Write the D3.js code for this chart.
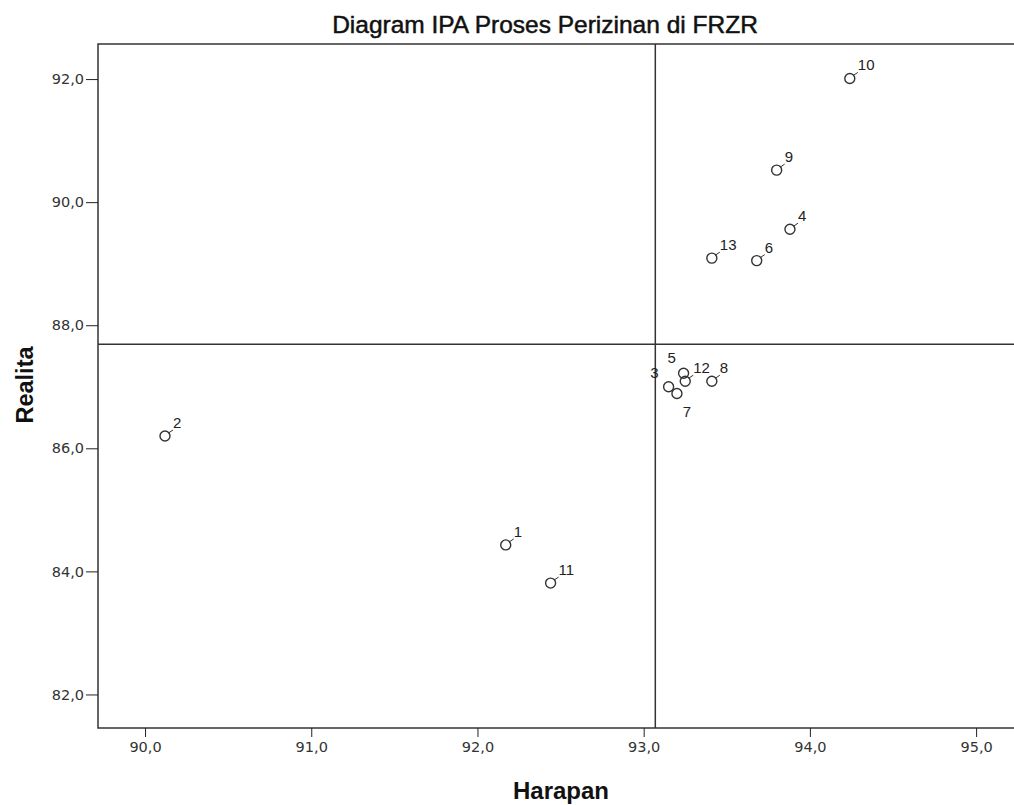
<!DOCTYPE html>
<html lang="en">
  <head>
    <meta charset="UTF-8" />
    <title>Diagram IPA Proses Perizinan di FRZR</title>
    <script src="https://d3js.org/d3.v7.min.js"></script>
    <style>
      body {
        margin: 0;
        background: #fff;
      }
      svg {
        display: block;
        font-family: "Liberation Sans", Arial, sans-serif;
      }
      .tick text {
        font-family: "DejaVu Sans", Verdana, sans-serif;
        font-size: 14.5px;
        fill: #333;
      }
      .tick line,
      .domain {
        stroke: #222;
      }
    </style>
  </head>
  <body>
    <div id="chart"></div>

    <script>
      // attribute numbers and their mean scores
      const ids = [1, 2, 3, 4, 5, 6, 7, 8, 9, 10, 11, 12, 13];
      const harapan = [92.17, 90.12, 93.15, 93.88, 93.24, 93.68, 93.2, 93.41, 93.8, 94.24, 92.44, 93.25, 93.41];
      const realita = [84.43, 86.2, 87.0, 89.56, 87.22, 89.05, 86.89, 87.09, 90.52, 92.01, 83.81, 87.09, 89.09];
      const meanHarapan = 93.07;
      const meanRealita = 87.69;
      const xTicks = [90, 91, 92, 93, 94, 95];
      const yTicks = [82, 84, 86, 88, 90, 92];

      // where a label sits when the points are crowded
      const labelSide = { 3: "w", 5: "nw", 7: "s" };

      const width = 1014;
      const height = 805;
      const margin = { top: 44, right: -2, bottom: 77, left: 98 };

      const svg = d3
        .select("#chart")
        .append("svg")
        .attr("width", width)
        .attr("height", height);

      const x = d3
        .scaleLinear()
        .domain([89.717, 95.24])
        .range([margin.left, width - margin.right]);

      const y = d3
        .scaleLinear()
        .domain([81.455, 92.57])
        .range([height - margin.bottom, margin.top]);

      const fmt = (d) => d3.format(".1f")(d).replace(".", ",");

      // frame
      svg
        .append("rect")
        .attr("x", margin.left)
        .attr("y", margin.top)
        .attr("width", width - margin.right - margin.left)
        .attr("height", height - margin.bottom - margin.top)
        .attr("fill", "none")
        .attr("stroke", "#333")
        .attr("stroke-width", 1.5);

      svg
        .append("g")
        .attr("transform", `translate(0,${height - margin.bottom})`)
        .call(d3.axisBottom(x).tickValues(xTicks).tickFormat(fmt).tickSize(9).tickPadding(5))
        .call((g) => g.select(".domain").remove());

      svg
        .append("g")
        .attr("transform", `translate(${margin.left},0)`)
        .call(d3.axisLeft(y).tickValues(yTicks).tickFormat(fmt).tickSize(12).tickPadding(2))
        .call((g) => g.select(".domain").remove());

      // reference lines at the means
      svg
        .append("line")
        .attr("x1", x(meanHarapan))
        .attr("x2", x(meanHarapan))
        .attr("y1", margin.top)
        .attr("y2", height - margin.bottom)
        .attr("stroke", "#333")
        .attr("stroke-width", 1.5);

      svg
        .append("line")
        .attr("x1", margin.left)
        .attr("x2", width - margin.right)
        .attr("y1", y(meanRealita))
        .attr("y2", y(meanRealita))
        .attr("stroke", "#333")
        .attr("stroke-width", 1.5);

      const points = ids.map((id, i) => ({ id, hx: harapan[i], ry: realita[i] }));

      const pt = svg
        .append("g")
        .selectAll("g")
        .data(points)
        .join("g")
        .attr("transform", (d) => `translate(${x(d.hx)},${y(d.ry)})`);

      pt.filter((d) => !labelSide[d.id])
        .append("line")
        .attr("x1", 3.5)
        .attr("y1", -3)
        .attr("x2", 8)
        .attr("y2", -6)
        .attr("stroke", "#333");

      pt.append("circle")
        .attr("r", 5)
        .attr("fill", "none")
        .attr("stroke", "#333")
        .attr("stroke-width", 1.4);

      pt.append("text")
        .attr("font-size", 15)
        .attr("fill", "#222")
        .attr("text-anchor", (d) => {
          const s = labelSide[d.id];
          return s === "w" ? "end" : s ? "middle" : "start";
        })
        .attr("x", (d) => {
          const s = labelSide[d.id];
          if (s === "w") return -10;
          if (s === "nw") return -12;
          if (s === "s") return 10;
          return 8;
        })
        .attr("y", (d) => {
          const s = labelSide[d.id];
          if (s === "w") return -9;
          if (s === "nw") return -10;
          if (s === "s") return 23;
          return -8;
        })
        .text((d) => d.id);

      // titles
      svg
        .append("text")
        .attr("x", 545)
        .attr("y", 33)
        .attr("text-anchor", "middle")
        .attr("font-size", 24.5)
        .attr("fill", "#111")
        .attr("stroke", "#111")
        .attr("stroke-width", 0.5)
        .text("Diagram IPA Proses Perizinan di FRZR");

      svg
        .append("text")
        .attr("x", 561)
        .attr("y", 799)
        .attr("text-anchor", "middle")
        .attr("font-size", 24)
        .attr("font-weight", "bold")
        .attr("fill", "#111")
        .text("Harapan");

      svg
        .append("text")
        .attr("transform", "translate(33,385) rotate(-90)")
        .attr("text-anchor", "middle")
        .attr("font-size", 23.5)
        .attr("font-weight", "bold")
        .attr("fill", "#111")
        .text("Realita");
    </script>
  </body>
</html>
